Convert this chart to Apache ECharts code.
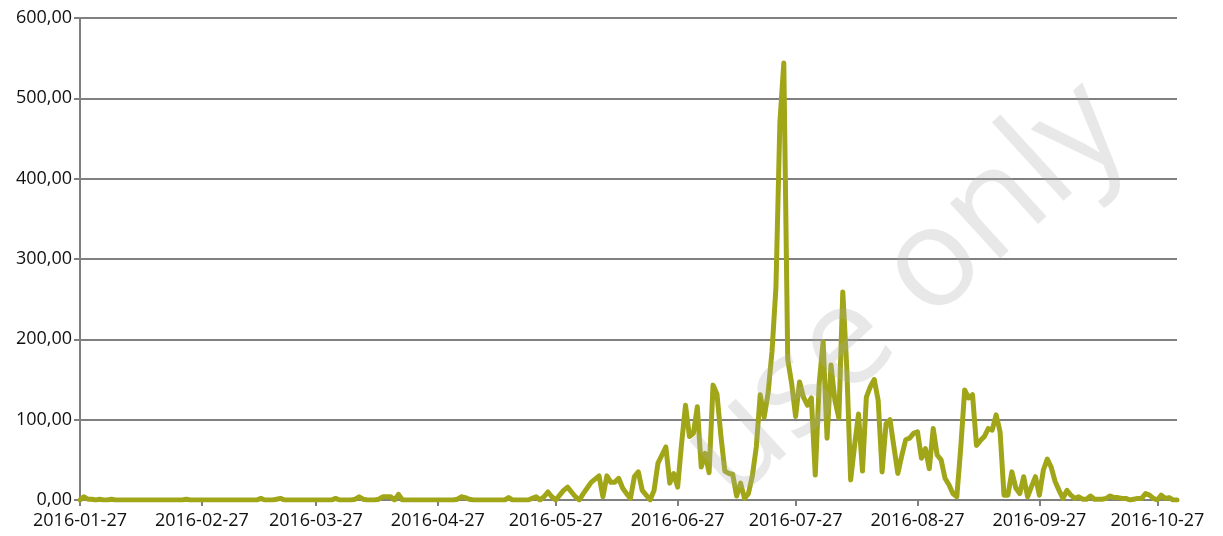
<!DOCTYPE html>
<html>
<head>
<meta charset="utf-8">
<script src="https://cdn.jsdelivr.net/npm/echarts@6/dist/echarts.min.js"></script>
<style>
html,body{margin:0;padding:0;background:#fff;}
#chart{width:1223px;height:536px;}
</style>
</head>
<body>
<div id="chart"></div>
<script>
// first date of the series and number of daily points
const startDate = '2016-01-27';
const values = [
  0,4,1,1,0,1,0,0,1,0,
  0,0,0,0,0,0,0,0,0,0,
  0,0,0,0,0,0,0,1,0,0,
  0,0,0,0,0,0,0,0,0,0,
  0,0,0,0,0,0,2,0,0,0,
  1,2,0,0,0,0,0,0,0,0,
  0,0,0,0,0,2,0,0,0,0,
  1,4,1,0,0,0,1,4,4,4,
  0,7,0,0,0,0,0,0,0,0,
  0,0,0,0,0,0,1,4,3,1,
  0,0,0,0,0,0,0,0,0,3,
  0,0,0,0,0,2,4,0,4,10,
  4,0,6,12,16,10,4,0,8,15,
  22,26,30,4,30,22,22,27,15,8,
  2,29,35,12,6,0,12,46,56,66,
  21,33,16,70,118,79,83,116,41,58,
  34,143,132,80,36,33,32,5,21,2,
  8,30,66,131,103,133,185,265,470,544,
  175,145,104,147,128,118,127,31,145,197,
  77,168,124,102,259,166,25,68,107,36,
  128,141,150,124,35,95,100,66,33,55,
  75,77,83,85,52,64,39,89,56,50,
  27,19,8,4,65,137,127,131,68,74,
  79,89,87,106,85,6,6,35,15,8,
  29,4,17,29,6,37,51,41,23,12,
  2,12,6,2,4,1,1,5,1,1,
  1,2,5,3,3,2,2,0,1,2,
  2,8,6,2,0,6,2,3,0,0
];
const yTicks = [0, 100, 200, 300, 400, 500, 600];
const watermarkText = 'use only';

function buildDates(start, n) {
  const out = [];
  const d = new Date(start + 'T00:00:00Z');
  for (let i = 0; i < n; i++) {
    const y = d.getUTCFullYear();
    const m = String(d.getUTCMonth() + 1).padStart(2, '0');
    const dd = String(d.getUTCDate()).padStart(2, '0');
    out.push(y + '-' + m + '-' + dd);
    d.setUTCDate(d.getUTCDate() + 1);
  }
  return out;
}
const dates = buildDates(startDate, values.length);
const isLabelDay = (idx, val) => dates[idx].slice(8) === '27';

const chart = echarts.init(document.getElementById('chart'), null, {renderer: 'canvas'});
const axisGray = '#808080';
const labelFont = {fontFamily: '"Open Sans", sans-serif', fontSize: 18, color: '#111111'};

chart.setOption({
  animation: false,
  backgroundColor: '#ffffff',
  grid: {left: 80, right: 46, top: 18, bottom: 36, containLabel: false},
  xAxis: {
    type: 'category',
    data: dates,
    boundaryGap: false,
    axisLine: {show: true, lineStyle: {color: axisGray, width: 2}},
    axisTick: {show: true, interval: isLabelDay, length: 6, lineStyle: {color: axisGray, width: 2}},
    axisLabel: Object.assign({interval: isLabelDay, margin: 12, hideOverlap: false}, labelFont),
    splitLine: {show: false}
  },
  yAxis: {
    type: 'value',
    min: yTicks[0],
    max: yTicks[yTicks.length - 1],
    interval: 100,
    axisLine: {show: true, lineStyle: {color: axisGray, width: 2}},
    axisTick: {show: true, length: 6, lineStyle: {color: axisGray, width: 2}},
    axisLabel: Object.assign({margin: 8, formatter: v => v.toFixed(2).replace('.', ',')}, labelFont),
    splitLine: {show: true, lineStyle: {color: axisGray, width: 2}}
  },
  series: [{
    type: 'line',
    data: values,
    showSymbol: false,
    symbol: 'none',
    lineStyle: {color: '#a0a617', width: 5, join: 'round', cap: 'round'},
    itemStyle: {color: '#a0a617'}
  }],
  graphic: [{
    type: 'text',
    z: 100,
    silent: true,
    rotation: 0.74,
    x: 752, y: 526,
    style: {
      text: watermarkText,
      font: '400 140px "Open Sans", sans-serif',
      fill: 'rgba(170,170,170,0.27)',
      textAlign: 'left',
      textVerticalAlign: 'bottom'
    }
  }]
});
</script>
</body>
</html>
